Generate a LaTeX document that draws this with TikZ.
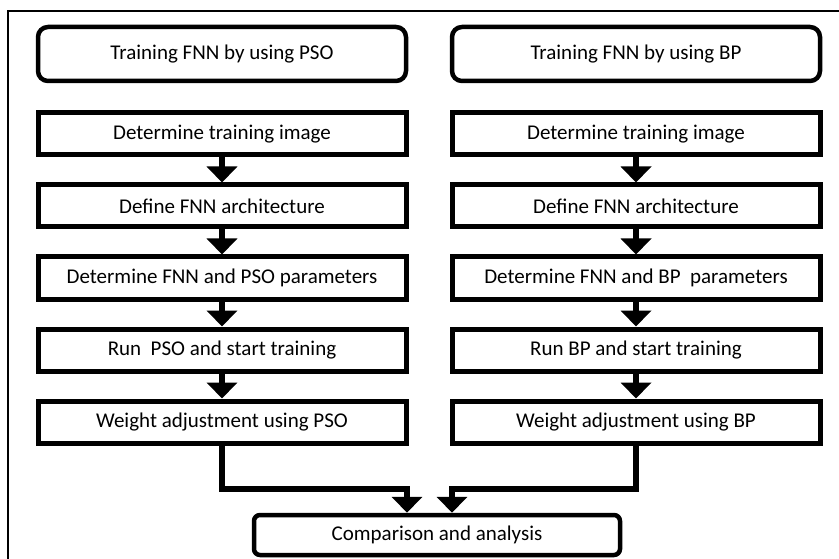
\documentclass[tikz,border=0pt]{standalone}
\usepackage{fontspec}
\setmainfont{Carlito}
\usepackage{tikz}
\usetikzlibrary{positioning,arrows.meta}

\begin{document}
\begin{tikzpicture}[x=1pt, y=-1pt, node distance=25pt,
        font=\fontsize{21}{25}\selectfont,
        headbox/.style = {shape=rectangle, rounded corners=10pt, draw,
                          line width=4.5pt, align=center,
                          minimum width=368pt, minimum height=54pt},
        stepbox/.style = {shape=rectangle, draw, line width=5pt,
                          align=center, minimum width=368pt, minimum height=42pt},
        endbox/.style = {shape=rectangle, rounded corners=6pt, draw,
                         line width=4.5pt, align=center,
                         minimum width=366pt, minimum height=40pt},
        arrow/.style = {line width=6pt, -{Triangle[width=30pt,length=16pt]}}]
    \useasboundingbox (0,0) rectangle (839,559);
    \draw[line width=1.3pt] (8,559) -- (8,11) -- (839,11);

    % PSO side
    \node[headbox] (tpso) at (222,54) {Training FNN by using PSO};
    \node[stepbox] (img1) at (222,134) {Determine training image};
    \node[stepbox, below=of img1] (arch1) {Define FNN architecture};
    \node[stepbox, below=of arch1] (par1) {Determine FNN and PSO parameters};
    \node[stepbox, below=of par1] (run1) {Run~ PSO and start training};
    \node[stepbox, below=of run1] (wgt1) {Weight adjustment using PSO};

    % BP side
    \node[headbox] (tbp) at (636,54) {Training FNN by using BP};
    \node[stepbox] (img2) at (636,134) {Determine training image};
    \node[stepbox, below=of img2] (arch2) {Define FNN architecture};
    \node[stepbox, below=of arch2] (par2) {Determine FNN and BP~ parameters};
    \node[stepbox, below=of par2] (run2) {Run BP and start training};
    \node[stepbox, below=of run2] (wgt2) {Weight adjustment using BP};

    \node[endbox] (cmp) at (437,535) {Comparison and analysis};

    \foreach \a/\b in {img1/arch1, arch1/par1, par1/run1, run1/wgt1,
                       img2/arch2, arch2/par2, par2/run2, run2/wgt2}
        \draw[arrow] (\a) -- (\b);

    \draw[arrow] (wgt1.south) -- ++(0,43) -| ([xshift=-30pt]cmp.north);
    \draw[arrow] (wgt2.south) -- ++(0,43) -| ([xshift=15pt]cmp.north);
\end{tikzpicture}
\end{document}
